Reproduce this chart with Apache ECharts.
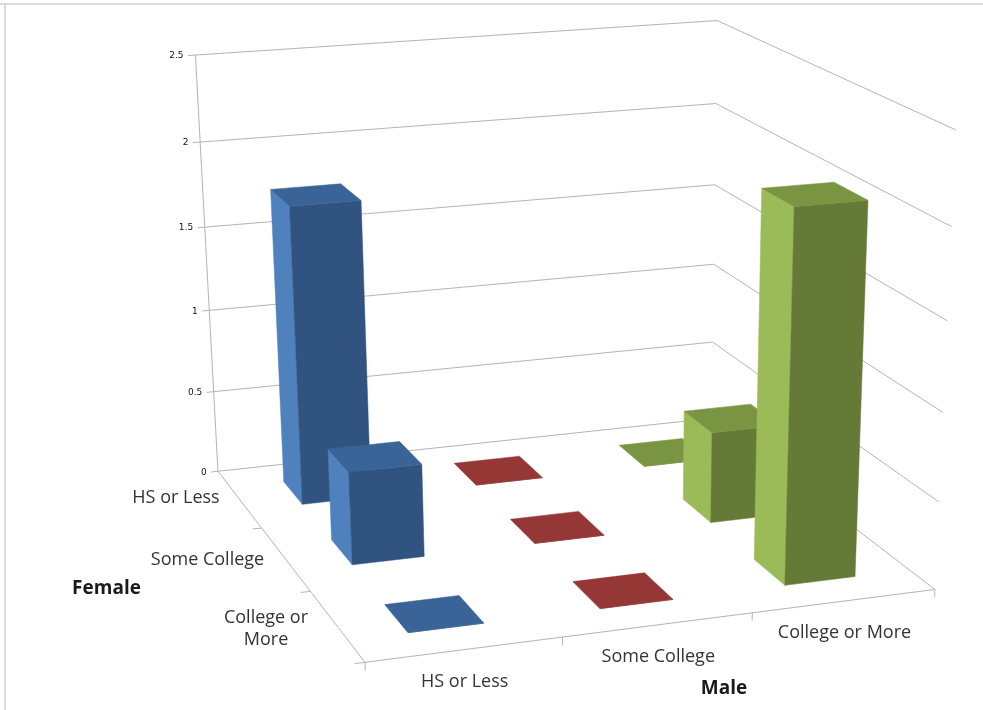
<!DOCTYPE html>
<html>
<head>
<meta charset="utf-8">
<style>html,body{margin:0;padding:0;background:#fff}#chart{width:983px;height:710px}</style>
<script src="https://cdn.jsdelivr.net/npm/echarts@6/dist/echarts.min.js"></script>
</head>
<body>
<div id="chart"></div>
<script>
// Couples' education levels: one row of columns per male level, one depth slot per female level.
const maleLevels = ['HS or Less', 'Some College', 'College or More'];
const femaleLevels = ['HS or Less', 'Some College', 'College or\nMore'];
const valueTicks = [0, 0.5, 1, 1.5, 2, 2.5];
const maleHsValues = [1.77, 0.54, 0];
const maleSomeCollegeValues = [0, 0, 0];
const maleCollegeValues = [0, 0.54, 2.09];

const palettes = [
  { side: '#4f81bd', front: '#30547f', top: '#3a6497' },
  { side: '#c0504d', front: '#7f2f2d', top: '#953735' },
  { side: '#9bbb59', front: '#647a36', top: '#7a9541' }
];

// Perspective camera: world [male, female depth, value] to page pixels,
// fitted by least squares through the gridline corners of the chart box.
const floorAndRimCorners = [
  [0, 3, 0, 365, 666],
  [0, 0, 2.5, 196, 57], [3, 0, 2.5, 716, 20], [3, 3, 2.5, 958, 131],
  [0, 0, 0, 218, 468], [3, 0, 0, 714, 424], [3, 3, 0, 933, 586]
];
const midLevelCorners = [
  [0, 0, 2, 200, 142], [3, 0, 2, 714, 102], [3, 3, 2, 952, 227],
  [0, 0, 1.5, 204, 226], [3, 0, 1.5, 713, 182], [3, 3, 1.5, 948, 320],
  [0, 0, 1, 209, 309], [3, 0, 1, 713, 262], [3, 3, 1, 943, 412],
  [0, 0, 0.5, 213, 389], [3, 0, 0.5, 713, 342], [3, 3, 0.5, 938, 500]
];
// The floor and rim count more heavily than the intermediate gridlines.
const cameraFit = [...floorAndRimCorners, ...floorAndRimCorners, ...floorAndRimCorners, ...midLevelCorners];

function solveLinear(A, b) {
  const n = b.length;
  for (let c = 0; c < n; c++) {
    let p = c;
    for (let r = c + 1; r < n; r++) if (Math.abs(A[r][c]) > Math.abs(A[p][c])) p = r;
    [A[c], A[p]] = [A[p], A[c]];
    [b[c], b[p]] = [b[p], b[c]];
    for (let r = c + 1; r < n; r++) {
      const f = A[r][c] / A[c][c];
      for (let k = c; k < n; k++) A[r][k] -= f * A[c][k];
      b[r] -= f * b[c];
    }
  }
  const x = new Array(n).fill(0);
  for (let r = n - 1; r >= 0; r--) {
    let s = b[r];
    for (let k = r + 1; k < n; k++) s -= A[r][k] * x[k];
    x[r] = s / A[r][r];
  }
  return x;
}

function fitCamera(rows) {
  const N = Array.from({ length: 11 }, () => new Array(11).fill(0));
  const v = new Array(11).fill(0);
  const add = (row, t) => {
    for (let i = 0; i < 11; i++) {
      v[i] += row[i] * t;
      for (let j = 0; j < 11; j++) N[i][j] += row[i] * row[j];
    }
  };
  rows.forEach(([X, Y, Z, u, w]) => {
    add([X, Y, Z, 1, 0, 0, 0, 0, -u * X, -u * Y, -u * Z], u);
    add([0, 0, 0, 0, X, Y, Z, 1, -w * X, -w * Y, -w * Z], w);
  });
  return solveLinear(N, v);
}

const cam = fitCamera(cameraFit);
function project(X, Y, Z) {
  const d = cam[8] * X + cam[9] * Y + cam[10] * Z + 1;
  return [
    (cam[0] * X + cam[1] * Y + cam[2] * Z + cam[3]) / d,
    (cam[4] * X + cam[5] * Y + cam[6] * Z + cam[7]) / d
  ];
}

// The hidden grid holds the male and value scales at 100 px per world unit.
const unit = 100;
const plotHeight = 2.5 * unit;
const barGapX = 0.305;
const barGapY = 0.30;
const gridColor = '#b4b4b4';
const textColor = '#333333';
const labelFont = '"Open Sans", sans-serif';
const femaleLabelCenters = [[176, 498], [207.5, 560], [266, 629]];

const seg = (a, b) => ({
  type: 'line',
  shape: { x1: a[0], y1: a[1], x2: b[0], y2: b[1] },
  style: { stroke: gridColor, lineWidth: 1 }
});
const label = (p, text, style) => ({
  type: 'text',
  x: p[0],
  y: p[1],
  style: Object.assign({ text, fill: textColor, font: '18px ' + labelFont, align: 'center', verticalAlign: 'middle', lineHeight: 22 }, style)
});
const poly = (pts, fill) => ({
  type: 'polygon',
  shape: { points: pts },
  style: { fill, stroke: fill, lineWidth: 0.5 }
});

// Walls, floor edges, tick marks and every axis label.
function renderFrame() {
  const children = [];
  valueTicks.forEach(v => {
    children.push(seg(project(0, 0, v), project(3, 0, v)));
    children.push(seg(project(3, 0, v), project(3, 3, v)));
    children.push(seg(project(-0.04, 0, v), project(0, 0, v)));
    children.push(label(project(-0.065, 0, v), String(v), {
      font: '9px "DejaVu Sans", sans-serif', align: 'right', fill: '#111111'
    }));
  });
  children.push(seg(project(0, 0, 0), project(0, 0, 2.5)));
  children.push(seg(project(0, 0, 0), project(0, 3, 0)));
  children.push(seg(project(0, 3, 0), project(3, 3, 0)));
  for (let i = 0; i <= 3; i++) {
    children.push(seg(project(i, 3, 0), project(i, 3, -0.045)));
    if (i < 3) children.push(seg(project(0, i + 1, 0), project(-0.05, i + 1, 0)));
  }
  maleLevels.forEach((name, i) => {
    const p = project(i + 0.5, 3, 0);
    children.push(label([p[0], p[1] + 32], name));
  });
  femaleLevels.forEach((name, j) => {
    children.push(label(femaleLabelCenters[j], name));
  });
  children.push(label([106.5, 589], 'Female', { font: 'bold 19px ' + labelFont, fill: '#1a1a1a' }));
  children.push(label([724, 689], 'Male', { font: 'bold 19px ' + labelFont, fill: '#1a1a1a' }));
  return { type: 'group', children };
}

// One column as its three visible faces, built from the hidden grid's scales.
function renderBar(params, api) {
  const maleIdx = api.value(0);
  const base = api.coord([maleIdx, 0]);
  const tip = api.coord([maleIdx, api.value(1)]);
  const cx = base[0] / unit;
  const h = (base[1] - tip[1]) / unit;
  const j = api.value(2);
  const half = 0.5 - barGapX;
  const x0 = cx - half, x1 = cx + half;
  const y0 = j + barGapY, y1 = j + 1 - barGapY;
  const c = palettes[params.seriesIndex - 1];
  return {
    type: 'group',
    children: [
      poly([project(x0, y0, 0), project(x0, y1, 0), project(x0, y1, h), project(x0, y0, h)], c.side),
      poly([project(x0, y1, 0), project(x1, y1, 0), project(x1, y1, h), project(x0, y1, h)], c.front),
      poly([project(x0, y0, h), project(x1, y0, h), project(x1, y1, h), project(x0, y1, h)], c.top)
    ]
  };
}

const columnSeries = [maleHsValues, maleSomeCollegeValues, maleCollegeValues].map((values, m) => ({
  name: maleLevels[m],
  type: 'custom',
  renderItem: renderBar,
  encode: { x: 0, y: 1 },
  data: values.map((v, j) => [m, v, j])
}));

const chart = echarts.init(document.getElementById('chart'), null, { renderer: 'canvas' });
chart.setOption({
  backgroundColor: '#ffffff',
  animation: false,
  tooltip: { show: false },
  grid: { left: 0, top: 0, width: 3 * unit, height: plotHeight, show: false },
  xAxis: { type: 'category', data: maleLevels, show: false },
  yAxis: { type: 'value', min: 0, max: 2.5, show: false },
  graphic: [
    { type: 'line', shape: { x1: 0, y1: 4, x2: 983, y2: 4 }, style: { stroke: '#cfcfcf', lineWidth: 1.5 }, silent: true },
    { type: 'line', shape: { x1: 5, y1: 4, x2: 5, y2: 710 }, style: { stroke: '#cfcfcf', lineWidth: 1.5 }, silent: true }
  ],
  series: [
    { type: 'custom', name: 'frame', renderItem: renderFrame, data: [[0, 0]], encode: { x: 0, y: 1 } }
  ].concat(columnSeries)
});
</script>
</body>
</html>
